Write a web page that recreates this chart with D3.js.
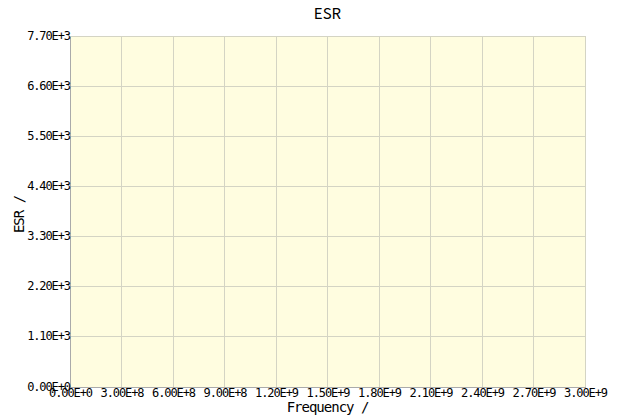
<!DOCTYPE html>
<html>
<head>
<meta charset="utf-8">
<script src="https://cdn.jsdelivr.net/npm/d3@7"></script>
<style>
  body { margin: 0; background: #fff; }
  svg { display: block; }
</style>
</head>
<body>
<svg id="chart"></svg>
<script>
// chart data (empty series, only axes)
const chartTitle = "ESR";
const xLabel = "Frequency /";
const yLabel = "ESR /";
const xDomain = [0, 3.0e9];
const yDomain = [0, 7.7e3];
const xTicks = [0, 3e8, 6e8, 9e8, 1.2e9, 1.5e9, 1.8e9, 2.1e9, 2.4e9, 2.7e9, 3e9];
const yTicks = [0, 1.1e3, 2.2e3, 3.3e3, 4.4e3, 5.5e3, 6.6e3, 7.7e3];
const xTickLabels = ["0.00E+0", "3.00E+8", "6.00E+8", "9.00E+8", "1.20E+9", "1.50E+9", "1.80E+9", "2.10E+9", "2.40E+9", "2.70E+9", "3.00E+9"];
const yTickLabels = ["0.00E+0", "1.10E+3", "2.20E+3", "3.30E+3", "4.40E+3", "5.50E+3", "6.60E+3", "7.70E+3"];

const width = 617, height = 419;
const margin = { top: 36, right: 32, bottom: 32, left: 70 };
const innerW = width - margin.left - margin.right;
const innerH = height - margin.top - margin.bottom;
const monoFont = "'DejaVu Sans Mono', monospace";

const svg = d3.select("#chart").attr("width", width).attr("height", height);

const x = d3.scaleLinear().domain(xDomain).range([0, innerW]);
const y = d3.scaleLinear().domain(yDomain).range([innerH, 0]);

const g = svg.append("g").attr("transform", `translate(${margin.left},${margin.top})`);

// plot background
g.append("rect")
  .attr("width", innerW)
  .attr("height", innerH)
  .attr("fill", "#fffde0");

// grid lines
g.append("g")
  .selectAll("line")
  .data(xTicks)
  .enter()
  .append("line")
  .attr("x1", d => x(d)).attr("x2", d => x(d))
  .attr("y1", 0).attr("y2", innerH)
  .attr("stroke", "#d4d4c4")
  .attr("stroke-width", 1)
  .attr("shape-rendering", "crispEdges");

g.append("g")
  .selectAll("line")
  .data(yTicks)
  .enter()
  .append("line")
  .attr("x1", 0).attr("x2", innerW)
  .attr("y1", d => y(d)).attr("y2", d => y(d))
  .attr("stroke", "#d4d4c4")
  .attr("stroke-width", 1)
  .attr("shape-rendering", "crispEdges");

// axes
const xAxis = d3.axisBottom(x)
  .tickValues(xTicks)
  .tickSize(0)
  .tickPadding(1)
  .tickFormat((d, i) => xTickLabels[i]);

const yAxis = d3.axisLeft(y)
  .tickValues(yTicks)
  .tickSize(0)
  .tickPadding(0)
  .tickFormat((d, i) => yTickLabels[i]);

const gx = g.append("g")
  .attr("transform", `translate(0,${innerH})`)
  .call(xAxis);

const gy = g.append("g").call(yAxis);

[gx, gy].forEach(a => {
  a.select(".domain").attr("stroke", "#aaaaaa").attr("shape-rendering", "crispEdges");
  a.selectAll("text")
    .attr("font-family", monoFont)
    .attr("font-size", "12px")
    .attr("letter-spacing", "-1.1px")
    .attr("fill", "#000");
});

gy.selectAll("text").attr("dy", "0.25em");

// title and axis labels
svg.append("text")
  .attr("x", margin.left + innerW / 2)
  .attr("y", 19)
  .attr("text-anchor", "middle")
  .attr("font-family", "'Noto Sans CJK JP', sans-serif")
  .attr("font-size", "15px")
  .attr("fill", "#000")
  .text(chartTitle);

svg.append("text")
  .attr("x", margin.left + innerW / 2)
  .attr("y", height - 7)
  .attr("text-anchor", "middle")
  .attr("font-family", monoFont)
  .attr("font-size", "14px")
  .attr("letter-spacing", "-1px")
  .attr("fill", "#000")
  .text(xLabel);

svg.append("text")
  .attr("transform", `translate(24,${margin.top + innerH / 2 + 3}) rotate(-90)`)
  .attr("text-anchor", "middle")
  .attr("font-family", monoFont)
  .attr("font-size", "14px")
  .attr("letter-spacing", "-1px")
  .attr("fill", "#000")
  .text(yLabel);
</script>
</body>
</html>
